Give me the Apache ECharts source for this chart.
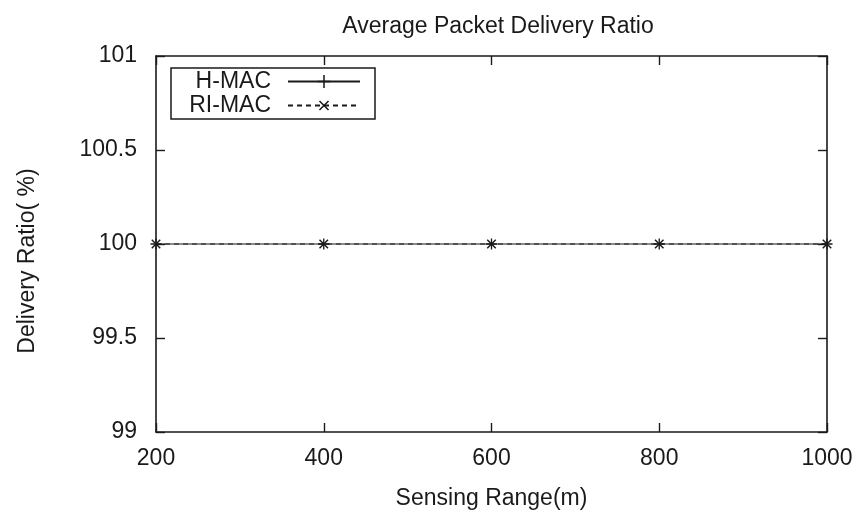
<!DOCTYPE html>
<html>
<head>
<meta charset="utf-8">
<title>Average Packet Delivery Ratio</title>
<script src="https://cdn.jsdelivr.net/npm/echarts@6/dist/echarts.min.js"></script>
<style>
  html, body { margin: 0; padding: 0; background: #fff; }
  #chart { width: 859px; height: 515px; }
</style>
</head>
<body>
<div id="chart"></div>
<script>
// Sensing range values (m) on the x axis
const sensingRange = [200, 400, 600, 800, 1000];
// Average packet delivery ratio (%) per protocol
const hmacRatio = [100, 100, 100, 100, 100];
const rimacRatio = [100, 100, 100, 100, 100];
const seriesNames = ['H-MAC', 'RI-MAC'];
const xTicks = [200, 400, 600, 800, 1000];
const yTicks = [99, 99.5, 100, 100.5, 101];

const FONT = '"Liberation Sans", Arial, Helvetica, sans-serif';
const INK = '#1a1a1a';
const FS = 23;

// Thin plus sign; rotated 45 degrees it becomes an x
const PLUS = 'path://M-0.6,-5h1.2v10h-1.2z M-5,-0.6h10v1.2h-10z';

const axisLineStyle = { show: true, lineStyle: { color: INK, width: 1.6 } };
const tickStyle = { show: true, inside: true, length: 9, lineStyle: { color: INK, width: 1.4 } };

const chart = echarts.init(document.getElementById('chart'), null, { renderer: 'canvas' });

chart.setOption({
  animation: false,
  backgroundColor: '#fff',
  title: {
    text: 'Average Packet Delivery Ratio',
    left: 493,
    textAlign: 'center',
    top: 10,
    textStyle: { fontFamily: FONT, fontSize: FS, fontWeight: 'normal', color: INK }
  },
  grid: { left: 156, right: 32, top: 56, bottom: 79, containLabel: false },
  legend: {
    data: seriesNames,
    orient: 'vertical',
    left: 171,
    top: 68,
    align: 'right',
    itemWidth: 72,
    itemHeight: 16,
    itemGap: 1,
    padding: [2, 14, 2, 12],
    borderColor: INK,
    borderWidth: 1.5,
    backgroundColor: '#fff',
    textStyle: {
      fontFamily: FONT, fontSize: FS, color: INK,
      width: 88, align: 'right', lineHeight: 23,
      padding: [0, 12, 0, 0]
    }
  },
  xAxis: [
    {
      type: 'value',
      min: 200, max: 1000, interval: 200,
      name: 'Sensing Range(m)',
      nameLocation: 'middle',
      nameGap: 55,
      nameTextStyle: { fontFamily: FONT, fontSize: FS, color: INK },
      axisLine: axisLineStyle,
      axisTick: tickStyle,
      splitLine: { show: false },
      axisLabel: {
        fontFamily: FONT, fontSize: FS, color: INK, margin: 15,
        customValues: xTicks,
        formatter: v => String(v)
      }
    },
    {
      type: 'value',
      position: 'top',
      min: 200, max: 1000, interval: 200,
      axisLine: axisLineStyle,
      axisTick: tickStyle,
      splitLine: { show: false },
      axisLabel: { show: false }
    }
  ],
  yAxis: [
    {
      type: 'value',
      min: 99, max: 101, interval: 0.5,
      name: 'Delivery Ratio( %)',
      nameLocation: 'middle',
      nameGap: 117,
      nameRotate: 90,
      nameTextStyle: { fontFamily: FONT, fontSize: FS, color: INK, padding: [0, 34, 0, 0] },
      axisLine: axisLineStyle,
      axisTick: tickStyle,
      splitLine: { show: false },
      axisLabel: {
        fontFamily: FONT, fontSize: FS, color: INK, margin: 19,
        customValues: yTicks,
        formatter: v => String(v)
      }
    },
    {
      type: 'value',
      position: 'right',
      min: 99, max: 101, interval: 0.5,
      axisLine: axisLineStyle,
      axisTick: tickStyle,
      splitLine: { show: false },
      axisLabel: { show: false }
    }
  ],
  series: [
    {
      name: seriesNames[0],
      type: 'line',
      data: sensingRange.map((x, i) => [x, hmacRatio[i]]),
      symbol: PLUS,
      symbolSize: 11,
      showAllSymbol: true,
      lineStyle: { color: INK, width: 1.2, type: 'solid' },
      itemStyle: { color: INK },
      emphasis: { disabled: true },
      z: 4
    },
    {
      name: seriesNames[1],
      type: 'line',
      data: sensingRange.map((x, i) => [x, rimacRatio[i]]),
      symbol: PLUS,
      symbolRotate: 45,
      symbolSize: 12,
      showAllSymbol: true,
      lineStyle: { color: INK, width: 1.2, type: [5, 4] },
      itemStyle: { color: INK },
      emphasis: { disabled: true },
      z: 3
    }
  ]
});
</script>
</body>
</html>
